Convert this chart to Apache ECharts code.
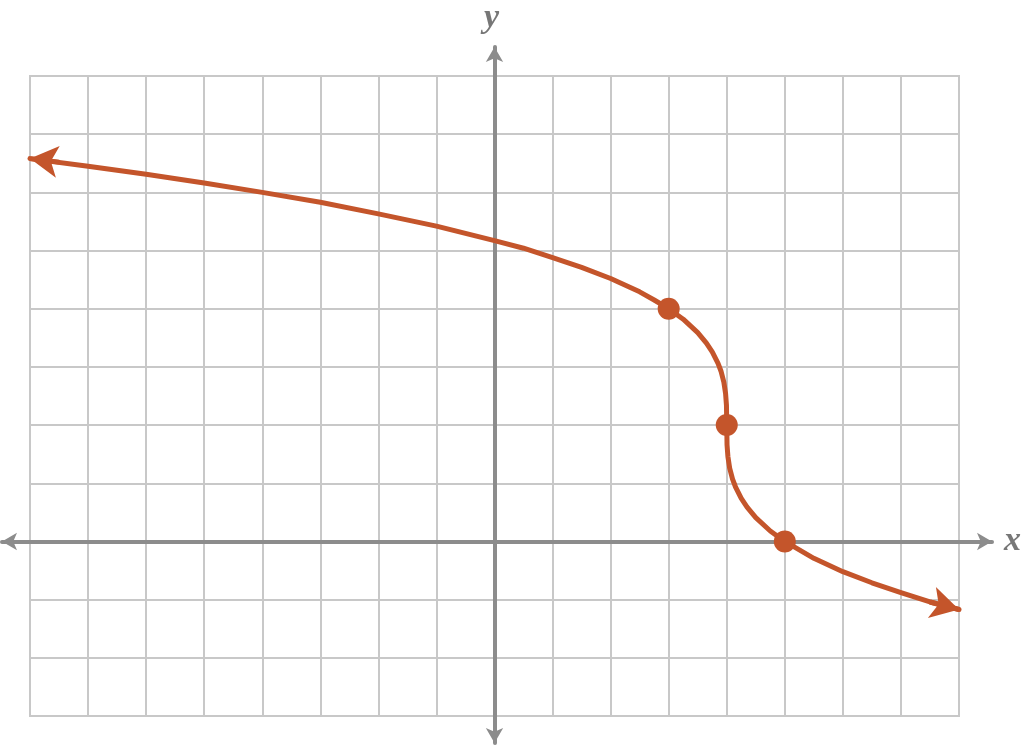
<!DOCTYPE html>
<html>
<head>
<meta charset="utf-8">
<script src="https://cdn.jsdelivr.net/npm/echarts@6/dist/echarts.min.js"></script>
<style>html,body{margin:0;padding:0;background:#fff}#c{width:1024px;height:745px}</style>
</head>
<body>
<div id="c"></div>
<script>
// curve points
const curveX = [-8,-7,-6,-5,-4,-3,-2,-1,0,0.5,1,1.5,2,2.5,2.75,3,3.25,3.5,3.65,3.75,3.85,3.9,3.95,3.98,3.995,4,4.005,4.02,4.05,4.1,4.15,4.25,4.35,4.5,4.75,5,5.5,6,6.5,7,7.5,8];
const curveY = [6.58,6.45,6.31,6.16,6.00,5.83,5.63,5.42,5.17,5.04,4.88,4.71,4.52,4.29,4.15,4.00,3.82,3.59,3.41,3.26,3.06,2.93,2.74,2.54,2.34,2.00,1.66,1.46,1.26,1.07,0.94,0.74,0.59,0.41,0.18,0,-0.29,-0.52,-0.71,-0.88,-1.04,-1.17];
// highlighted points
const dotX = [3,4,5];
const dotY = [4,2,0];
// arrow heads at the two ends of the curve: [from, to]
const arrowLeft = [[-7.5,6.52],[-8,6.58]];
const arrowRight = [[7.5,-1.04],[8,-1.17]];
// axis ranges
const xMin = -8, xMax = 8, yMin = -3, yMax = 8;
// outer axis (arrow) ranges
const axXMin = -8.483, axXMax = 8.569, axYMin = -3.463, axYMax = 8.499;

const curveData = curveX.map((x,i)=>[x,curveY[i]]);
const dotData = dotX.map((x,i)=>[x,dotY[i]]);
const red = '#c4552b';
const gridGray = '#c8c8c8';
const axisGray = '#8c8c8c';

const chart = echarts.init(document.getElementById('c'));
chart.setOption({
  animation:false,
  grid:[
    {left:30,right:65,top:76,bottom:29,show:true,borderColor:gridGray,borderWidth:2},
    {left:2,right:32,top:47,bottom:2}
  ],
  xAxis:[
    {type:'value',gridIndex:0,min:xMin,max:xMax,interval:1,
     axisLine:{show:false},axisTick:{show:false},axisLabel:{show:false},
     splitLine:{show:true,lineStyle:{color:gridGray,width:2}}},
    {type:'value',gridIndex:1,min:axXMin,max:axXMax,
     axisLine:{show:true,onZero:true,symbol:['arrow','arrow'],symbolSize:[13,15],lineStyle:{color:axisGray,width:4}},
     axisTick:{show:false},axisLabel:{show:false},splitLine:{show:false},
     name:'x',nameLocation:'end',nameGap:12,
     nameTextStyle:{fontFamily:'Liberation Serif',fontStyle:'italic',fontWeight:'bold',fontSize:34,color:'#777777',verticalAlign:'middle'}}
  ],
  yAxis:[
    {type:'value',gridIndex:0,min:yMin,max:yMax,interval:1,
     axisLine:{show:false},axisTick:{show:false},axisLabel:{show:false},
     splitLine:{show:true,lineStyle:{color:gridGray,width:2}}},
    {type:'value',gridIndex:1,min:axYMin,max:axYMax,
     axisLine:{show:true,onZero:true,symbol:['arrow','arrow'],symbolSize:[13,15],lineStyle:{color:axisGray,width:4}},
     axisTick:{show:false},axisLabel:{show:false},splitLine:{show:false},
     name:'y',nameLocation:'end',nameGap:12,
     nameTextStyle:{fontFamily:'Liberation Serif',fontStyle:'italic',fontWeight:'bold',fontSize:34,color:'#777777',padding:[0,6,0,0]}}
  ],
  series:[
    {type:'line',xAxisIndex:0,yAxisIndex:0,data:curveData,showSymbol:false,smooth:false,clip:false,
     lineStyle:{color:red,width:5,cap:'round',join:'round'},z:3,
     markLine:{silent:true,symbol:['none','arrow'],symbolSize:[24,28],label:{show:false},
       lineStyle:{color:red,width:5,type:'solid'},emphasis:{disabled:true},
       data:[
         [{coord:arrowLeft[0]},{coord:arrowLeft[1]}],
         [{coord:arrowRight[0]},{coord:arrowRight[1]}]
       ]}},
    {type:'scatter',xAxisIndex:0,yAxisIndex:0,data:dotData,symbol:'circle',symbolSize:22,
     itemStyle:{color:red,opacity:1},z:4}
  ]
});
</script>
</body>
</html>
